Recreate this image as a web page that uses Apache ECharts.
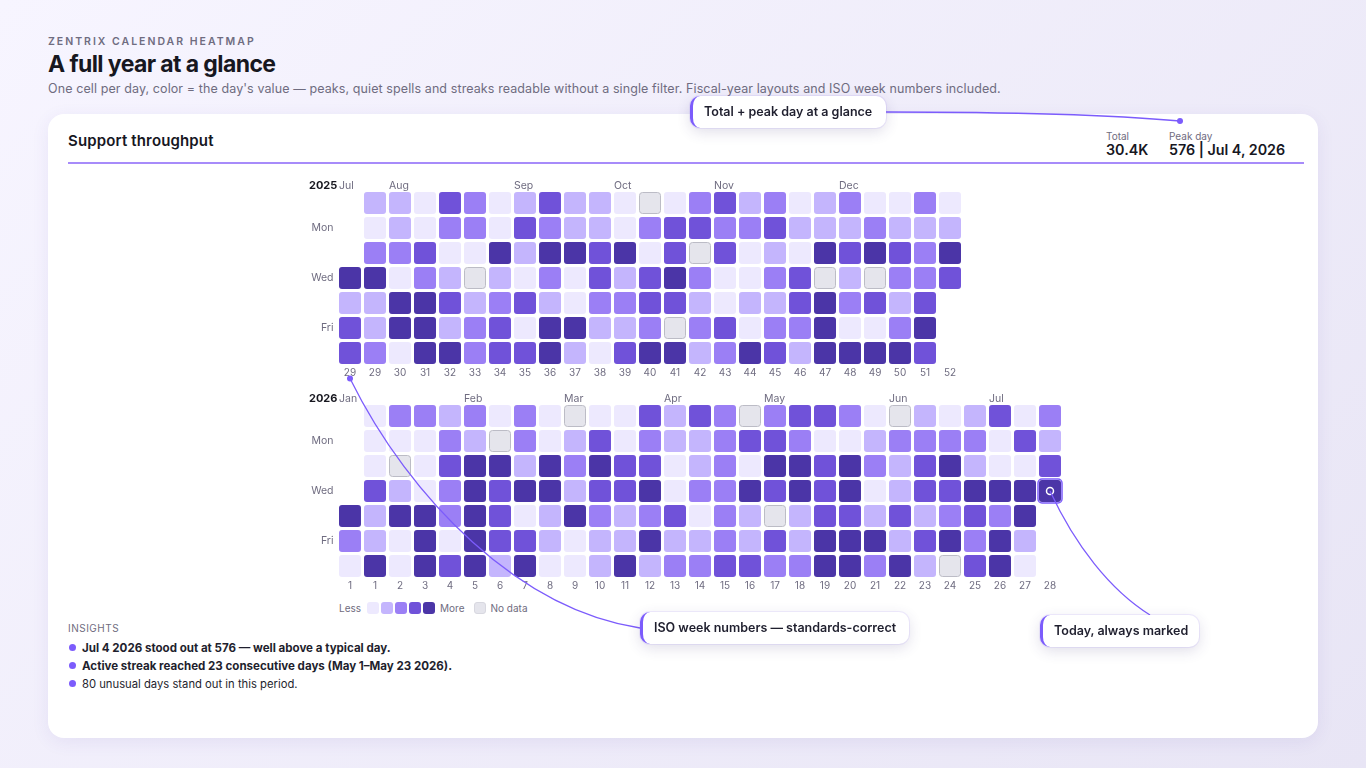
<!DOCTYPE html>
<html>
<head>
<meta charset="utf-8">
<title>Zentrix calendar heatmap</title>
<script src="https://cdn.jsdelivr.net/npm/echarts@6/dist/echarts.min.js"></script>
<style>
    html, body { margin: 0; padding: 0; width: 1366px; height: 768px; overflow: hidden; }
    body { position: relative; font-family: Inter, "Noto Sans", sans-serif; color: #1a1a2e;
           background: linear-gradient(135deg, #f7f5ff 0%, #e8e5f5 100%); }
    .abs { position: absolute; white-space: nowrap; }
    #eyebrow { left: 48px; top: 35px; font-size: 10.5px; line-height: 13px; font-weight: 600; letter-spacing: 2px; color: #6f6c80; }
    #title { left: 48px; top: 49px; font-size: 23px; line-height: 30px; font-weight: 700; letter-spacing: -0.6px; color: #17171f; }
    #sub { left: 48px; top: 80px; font-size: 12.5px; line-height: 17px; letter-spacing: 0.1px; color: #6f6c80; }
    #card { left: 48px; top: 114px; width: 1270px; height: 624px; background: #fff; border-radius: 16px;
            box-shadow: 0 4px 18px rgba(76, 53, 168, 0.08); }
    #chart { left: 0; top: 0; width: 1366px; height: 768px; }
    #cardTitle { left: 68px; top: 131px; font-size: 15px; line-height: 20px; font-weight: 600; letter-spacing: 0.15px; color: #17171f; }
    #rule { left: 68px; top: 162px; width: 1236px; height: 2px; background: #a78bfa; }
    .statLabel { top: 130px; font-size: 10px; line-height: 12px; color: #6f6c80; }
    .statValue { top: 141px; font-size: 14.3px; line-height: 18px; font-weight: 600; color: #17171f; }
    .callout { background: #fff; border-radius: 10px; border-left: 3px solid #7c5cfc; box-sizing: border-box;
               box-shadow: 0 4px 14px rgba(60, 50, 120, 0.16), 0 0 0 1px rgba(124, 92, 252, 0.1);
               font-size: 12.5px; font-weight: 600; color: #1f1f2e;
               line-height: 32px; height: 32px; padding-left: 11px; }
    #legend { left: 339px; top: 601px; height: 13px; display: flex; align-items: center; font-size: 10px; color: #6f6c80; }
    #legend i { display: block; width: 12px; height: 12px; border-radius: 3px; margin-right: 2px; box-sizing: border-box; }
    #insightsHead { left: 68px; top: 622px; font-size: 10px; line-height: 13px; letter-spacing: 0.5px; color: #6f6c80; }
    .insight { left: 82px; font-size: 11.25px; line-height: 16px; color: #1f1f2e; }
    .insight.strong { font-size: 11.55px; font-weight: 700; }
    .bullet { left: 69px; width: 7px; height: 7px; border-radius: 50%; background: #7c5cfc; }
</style>
</head>
<body>
<div class="abs" id="eyebrow">ZENTRIX CALENDAR HEATMAP</div>
<div class="abs" id="title">A full year at a glance</div>
<div class="abs" id="sub">One cell per day, color = the day's value — peaks, quiet spells and streaks readable without a single filter. Fiscal-year layouts and ISO week numbers included.</div>
<div class="abs" id="card"></div>
<div class="abs" id="cardTitle">Support throughput</div>
<div class="abs statLabel" style="left:1106px">Total</div>
<div class="abs statValue" style="left:1106px">30.4K</div>
<div class="abs statLabel" style="left:1169px">Peak day</div>
<div class="abs statValue" style="left:1169px">576 | Jul 4, 2026</div>
<div class="abs" id="rule"></div>
<div class="abs" id="legend"></div>
<div class="abs" id="insightsHead">INSIGHTS</div>
<div class="abs bullet" style="top:644px"></div>
<div class="abs insight strong" style="top:640px">Jul 4 2026 stood out at 576 — well above a typical day.</div>
<div class="abs bullet" style="top:662px"></div>
<div class="abs insight strong" style="top:658px">Active streak reached 23 consecutive days (May 1–May 23 2026).</div>
<div class="abs bullet" style="top:680px"></div>
<div class="abs insight" style="top:676px">80 unusual days stand out in this period.</div>
<div class="abs" id="chart"></div>
<div class="abs callout" style="left:690px;top:96px;width:196px">Total + peak day at a glance</div>
<div class="abs callout" style="left:640px;top:612px;width:269px">ISO week numbers — standards-correct</div>
<div class="abs callout" style="left:1040px;top:615px;width:159px">Today, always marked</div>
<script>
    // levels per weekday row: 0-4 = bucket, -1 = no data, null = outside the period
    var N = null, X = -1;
    var sun2025 = [N,1,1,0,3,2,0,1,3,1,1,0,X,0,2,3,1,2,0,1,2,0,0,2,0];
    var mon2025 = [N,0,1,0,2,2,0,3,2,1,1,0,2,3,3,2,2,3,1,1,1,2,1,1,1];
    var tue2025 = [N,2,2,3,0,0,4,1,4,4,3,4,0,3,X,3,0,1,0,4,3,4,3,2,4];
    var wed2025 = [4,4,0,2,1,X,1,0,2,0,3,1,3,4,2,0,0,2,3,X,1,X,2,2,3];
    var thu2025 = [1,1,4,4,3,1,2,3,1,0,2,2,3,3,1,0,1,1,3,4,2,3,1,3,N];
    var fri2025 = [3,1,4,4,1,2,3,0,4,4,1,1,2,X,2,3,0,2,2,4,0,0,2,4,N];
    var sat2025 = [3,2,0,4,4,2,3,3,4,1,0,3,4,4,1,2,4,3,1,4,4,4,4,3,N];

    var sun2026 = [N,0,2,2,1,2,0,2,0,X,0,0,3,1,3,2,X,2,3,3,2,0,X,1,0,1,3,0,2];
    var mon2026 = [N,0,0,0,2,1,X,2,0,1,3,0,2,1,1,2,3,3,2,0,0,1,2,2,2,2,0,3,1];
    var tue2026 = [N,0,X,0,3,4,4,1,4,2,4,3,3,0,1,2,0,4,4,3,4,2,1,3,4,1,0,0,3];
    var wed2026 = [N,3,1,0,2,4,3,4,4,1,3,3,4,0,2,2,4,3,4,3,4,0,1,3,3,4,4,4,4];
    var thu2026 = [4,1,4,4,2,4,3,0,1,4,2,1,2,3,0,2,1,X,1,3,3,1,3,1,2,3,2,4,N];
    var fri2026 = [2,1,0,4,0,4,3,3,1,0,1,1,4,1,1,2,1,3,1,4,4,4,1,3,4,2,4,1,N];
    var sat2026 = [0,4,0,4,3,4,1,4,0,0,1,4,1,2,2,3,3,2,2,4,4,2,4,1,X,3,4,0,N];

    var dayLabels = ['', 'Mon', '', 'Wed', '', 'Fri', ''];
    var weeks2025 = [29,29,30,31,32,33,34,35,36,37,38,39,40,41,42,43,44,45,46,47,48,49,50,51,52];
    var weeks2026 = [1,1,2,3,4,5,6,7,8,9,10,11,12,13,14,15,16,17,18,19,20,21,22,23,24,25,26,27,28];
    var months2025 = ['Jul','','Aug','','','','','Sep','','','','Oct','','','','Nov','','','','','Dec','','','',''];
    var months2026 = ['Jan','','','','','Feb','','','','Mar','','','','Apr','','','','May','','','','','Jun','','','','Jul','',''];
    var levelColors = ['#ede9fe', '#c4b5fd', '#9b7ff5', '#7052d9', '#4b35a7'];
    var noDataColor = '#e5e5ec';
    var noDataBorder = '#bcbcc6';
    var accent = '#7c5cfc';
    var todayCell = [28, 3];
    var CELL = 22;

    var buildCells = function (rows) {
        var cells = [];
        rows.forEach(function (row, r) {
            row.forEach(function (level, c) {
                if (level !== null) {
                    cells.push([c, r, level]);
                }
            });
        });
        return cells;
    };

    var renderCell = function (params, api) {
        var pos = api.coord([api.value(0), api.value(1)]);
        var level = api.value(2);
        if (level === X) {
            return {
                type: 'rect',
                shape: { x: pos[0] - CELL / 2 + 0.5, y: pos[1] - CELL / 2 + 0.5, width: CELL - 1, height: CELL - 1, r: 3 },
                style: { fill: noDataColor, stroke: noDataBorder, lineWidth: 1 }
            };
        }
        return {
            type: 'rect',
            shape: { x: pos[0] - CELL / 2, y: pos[1] - CELL / 2, width: CELL, height: CELL, r: 3 },
            style: { fill: levelColors[level] }
        };
    };

    var renderToday = function (params, api) {
        var pos = api.coord([api.value(0), api.value(1)]);
        return {
            type: 'group',
            children: [
                { type: 'rect', shape: { x: pos[0] - 12, y: pos[1] - 12, width: 24, height: 24, r: 4 },
                  style: { fill: 'none', stroke: accent, lineWidth: 1.5 } },
                { type: 'circle', shape: { cx: pos[0], cy: pos[1], r: 3.5 },
                  style: { fill: levelColors[4], stroke: '#fff', lineWidth: 1.5 } }
            ]
        };
    };

    var weekAxis = function (gridIndex, weeks) {
        return {
            type: 'category', gridIndex: gridIndex, position: 'bottom', data: weeks.map(String),
            axisLine: { show: false }, axisTick: { show: false }, splitLine: { show: false },
            axisLabel: { interval: 0, margin: 2, fontSize: 10, color: '#6f6c80', fontFamily: 'Inter', hideOverlap: false }
        };
    };
    var monthAxis = function (gridIndex, months) {
        return {
            type: 'category', gridIndex: gridIndex, position: 'top', data: months,
            axisLine: { show: false }, axisTick: { show: false }, splitLine: { show: false },
            axisLabel: {
                interval: 0, margin: -1, color: '#6f6c80', hideOverlap: false,
                formatter: function (v) { return v ? '{m|' + v + '}' : ''; },
                rich: { m: { width: CELL, align: 'left', fontSize: 10.5, fontFamily: 'Inter', color: '#6f6c80' } }
            }
        };
    };
    var dayAxis = function (gridIndex) {
        return {
            type: 'category', gridIndex: gridIndex, inverse: true, data: dayLabels,
            axisLine: { show: false }, axisTick: { show: false }, splitLine: { show: false },
            axisLabel: { interval: 0, margin: 4, fontSize: 10.5, color: '#6f6c80', fontFamily: 'Inter', hideOverlap: false }
        };
    };
    var yearTitle = function (text, top) {
        return { text: text, left: 309, top: top, padding: 0,
                 textStyle: { fontSize: 11, fontWeight: 700, color: '#17171f', fontFamily: 'Inter' } };
    };

    var rows2025 = [sun2025, mon2025, tue2025, wed2025, thu2025, fri2025, sat2025];
    var rows2026 = [sun2026, mon2026, tue2026, wed2026, thu2026, fri2026, sat2026];

    var legendEl = document.getElementById('legend');
    var legendHtml = '<span style="margin-right:6px">Less</span>';
    levelColors.forEach(function (color) {
        legendHtml += '<i style="background:' + color + '"></i>';
    });
    legendHtml += '<span style="margin:0 9px 0 3px">More</span><i style="background:' + noDataColor + ';border:1px solid #d8d8e0;margin-right:5px"></i><span>No data</span>';
    legendEl.innerHTML = legendHtml;

    var myChart = echarts.init(document.getElementById('chart'));
    myChart.setOption({
        animation: false,
        backgroundColor: 'transparent',
        title: [yearTitle('2025', 180), yearTitle('2026', 393)],
        grid: [
            { left: 337.5, top: 190.5, width: 25 * weeks2025.length, height: 175 },
            { left: 337.5, top: 403.5, width: 25 * weeks2026.length, height: 175 }
        ],
        xAxis: [weekAxis(0, weeks2025), monthAxis(0, months2025), weekAxis(1, weeks2026), monthAxis(1, months2026)],
        yAxis: [dayAxis(0), dayAxis(1)],
        series: [
            { type: 'custom', name: '2025', xAxisIndex: 0, yAxisIndex: 0, renderItem: renderCell, data: buildCells(rows2025) },
            { type: 'custom', name: '2026', xAxisIndex: 2, yAxisIndex: 1, renderItem: renderCell, data: buildCells(rows2026) },
            { type: 'custom', name: 'today', xAxisIndex: 2, yAxisIndex: 1, renderItem: renderToday, data: [todayCell], z: 5 }
        ]
    });

    // 标注连线 leader lines, anchored on the cells through the axes
    var todayPx = myChart.convertToPixel({ gridIndex: 1 }, todayCell);
    var weekPx = myChart.convertToPixel({ xAxisIndex: 0, yAxisIndex: 0 }, [0, 6]);
    var line = function (x1, y1, cx1, cy1, cx2, cy2, x2, y2) {
        return { type: 'bezierCurve', z: 20,
                 shape: { x1: x1, y1: y1, cpx1: cx1, cpy1: cy1, cpx2: cx2, cpy2: cy2, x2: x2, y2: y2 },
                 style: { fill: null, stroke: accent, lineWidth: 1.3 } };
    };
    var dot = function (x, y) {
        return { type: 'circle', z: 21, shape: { cx: x, cy: y, r: 3 }, style: { fill: accent } };
    };
    var weekY = weekPx[1] + 25.5;
    myChart.setOption({
        graphic: [
            line(886, 112, 980, 112, 1090, 113, 1180, 121),
            dot(1180, 121),
            line(weekPx[0], weekY, 410, 500, 520, 610, 640, 628),
            dot(weekPx[0], weekY),
            line(todayPx[0], todayPx[1], 1075, 545, 1110, 590, 1150, 615)
        ]
    });
</script>
</body>
</html>
